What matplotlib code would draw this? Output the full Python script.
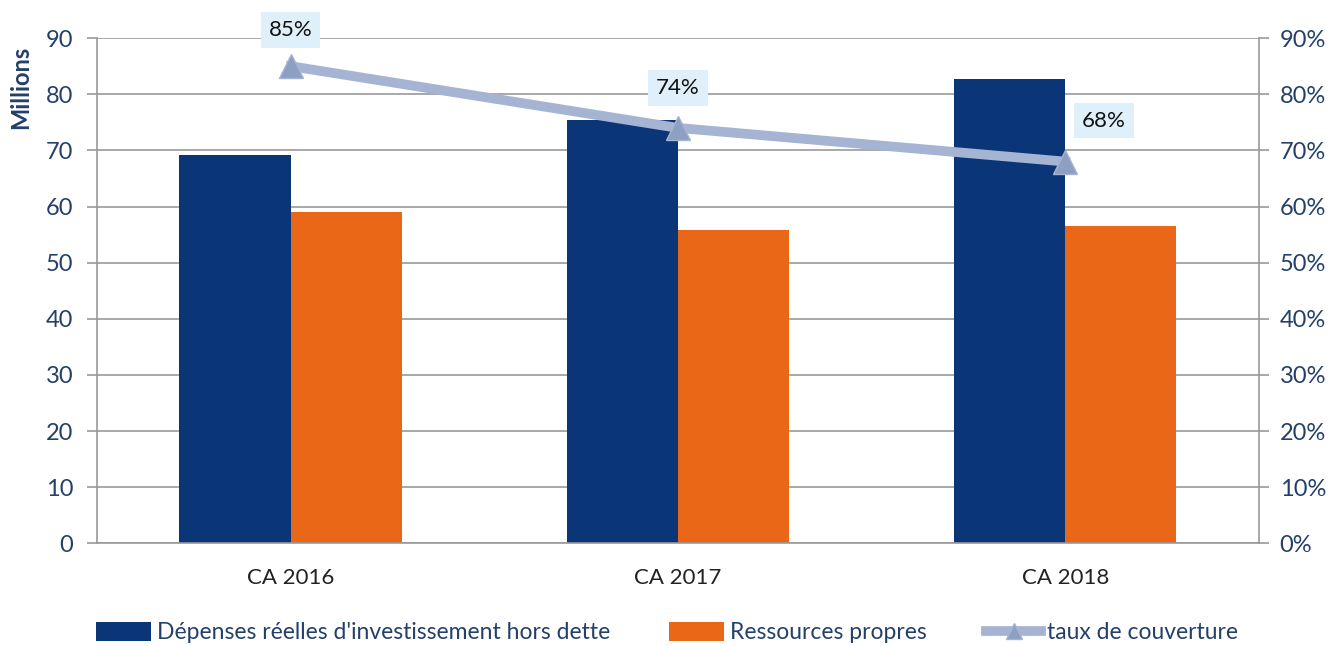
import matplotlib.pyplot as plt
import numpy as np
from matplotlib.ticker import FuncFormatter, MultipleLocator

plt.rcParams['font.family'] = ['Lato', 'DejaVu Sans']

categories = ['CA 2016', 'CA 2017', 'CA 2018']
depenses = [69.2, 75.4, 82.7]
ressources = [59.0, 55.8, 56.5]
taux = [0.85, 0.74, 0.68]

blue = '#0a3678'
orange = '#ea6717'
line_col = '#a4b4d2'
txt_col = '#24406a'
grid_col = '#999999'

fig = plt.figure(figsize=(13.34, 6.46), dpi=100)
ax = fig.add_axes([0.0727, 0.159, 0.871, 0.782])

x = np.arange(len(categories))
w = 0.287
ax.bar(x - w / 2, depenses, w, color=blue, label="Dépenses réelles d'investissement hors dette", zorder=2)
ax.bar(x + w / 2, ressources, w, color=orange, label='Ressources propres', zorder=2)

ax.set_xlim(-0.5, 2.5)
ax.set_ylim(0, 90)
ax.yaxis.set_major_locator(MultipleLocator(10))
ax.grid(axis='y', color=grid_col, linewidth=1.2, zorder=0)
for s in ['top', 'right']:
    ax.spines[s].set_visible(False)
ax.spines['bottom'].set_color(grid_col)
ax.spines['left'].set_color(grid_col)
ax.spines['bottom'].set_linewidth(1.2)
ax.spines['left'].set_linewidth(1.2)
ax.set_xticks(x)
ax.set_xticklabels(categories)
ax.tick_params(axis='x', length=0, labelsize=16, labelcolor='#222222', pad=18)
ax.tick_params(axis='y', length=7, color=grid_col, width=1.2, labelsize=17, labelcolor=txt_col, pad=10)
ax.set_ylabel('Millions', fontsize=17, fontweight='bold', color=txt_col, ha='right')
ax.yaxis.set_label_coords(-0.056, 0.985)

ax2 = ax.twinx()
ax2.set_ylim(0, 0.9)
ax2.yaxis.set_major_locator(MultipleLocator(0.1))
ax2.yaxis.set_major_formatter(FuncFormatter(lambda v, p: '%d%%' % round(v * 100)))
for s in ['top', 'left', 'bottom']:
    ax2.spines[s].set_visible(False)
ax2.spines['right'].set_color(grid_col)
ax2.spines['right'].set_linewidth(1.2)
ax2.tick_params(axis='y', length=7, color=grid_col, width=1.2, labelsize=17, labelcolor=txt_col, pad=8)

ax2.plot(x, taux, color=line_col, linewidth=7, marker='^', markersize=17,
         markerfacecolor='#8d9fc3', markeredgecolor='#a4b4d2', markeredgewidth=1,
         label='taux de couverture', zorder=3)

offsets = [(0, 0.064), (0, 0.071), (0.10, 0.073)]
for xi, t, (dx, dy) in zip(x, taux, offsets):
    ax2.text(xi + dx, t + dy, '%d%%' % round(t * 100), ha='center', va='center', fontsize=16,
             color='#111111', bbox=dict(boxstyle='square,pad=0.35', fc='#dff0fa', ec='none'), zorder=4)

h1, l1 = ax.get_legend_handles_labels()
h2, l2 = ax2.get_legend_handles_labels()
fig.legend(h1 + h2, l1 + l2, loc='lower center', bbox_to_anchor=(0.5, -0.028), ncol=3, frameon=False,
           fontsize=16.5, labelcolor=txt_col, handlelength=2.4, handleheight=0.9, columnspacing=2.6,
           handletextpad=0.25, markerscale=0.7)

fig.savefig('out.png', dpi=100)
